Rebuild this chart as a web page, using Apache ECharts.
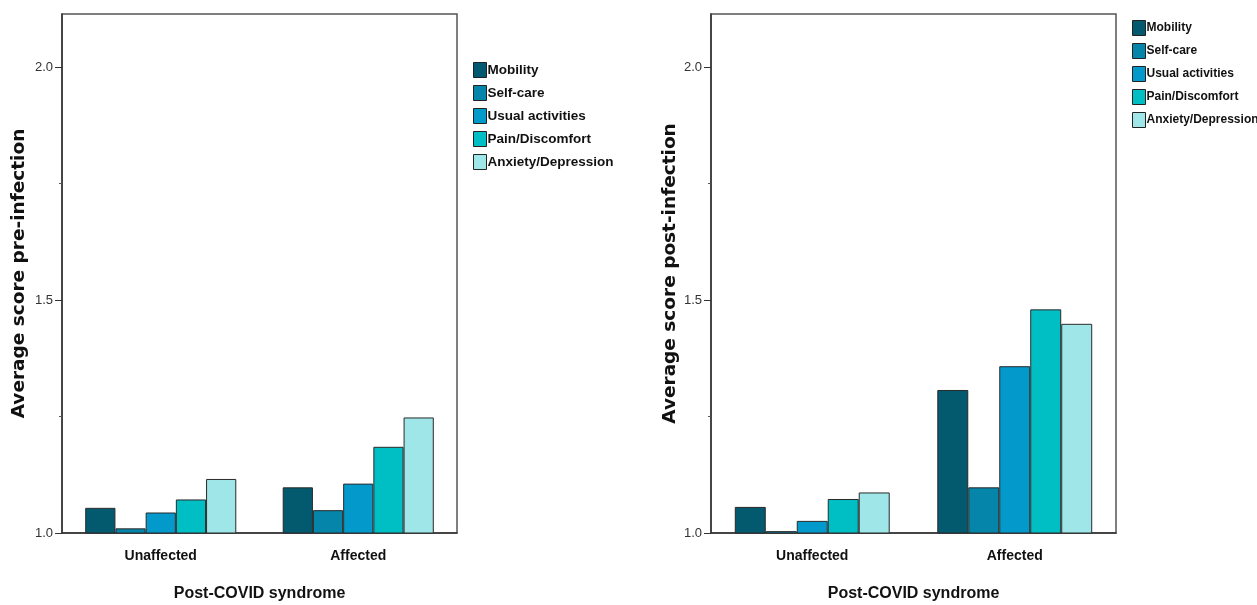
<!DOCTYPE html>
<html>
<head>
<meta charset="utf-8">
<script src="https://cdn.jsdelivr.net/npm/echarts@6/dist/echarts.min.js"></script>
<style>html,body{margin:0;padding:0;background:#fff;}#c{width:1257px;height:605px;}</style>
</head>
<body>
<div id="c"></div>
<script>
const categories = ['Unaffected', 'Affected'];
const dimensions = ['Mobility', 'Self-care', 'Usual activities', 'Pain/Discomfort', 'Anxiety/Depression'];
const preMobility = [1.054, 1.098];
const preSelfCare = [1.010, 1.049];
const preUsual = [1.044, 1.106];
const prePain = [1.072, 1.185];
const preAnxiety = [1.116, 1.248];
const postMobility = [1.056, 1.307];
const postSelfCare = [1.004, 1.098];
const postUsual = [1.026, 1.358];
const postPain = [1.073, 1.480];
const postAnxiety = [1.087, 1.449];
const yTickValues = [1.0, 1.5, 2.0];

const colors = ['#03596e', '#0585a9', '#0399cb', '#00bfc4', '#9fe6e8'];
const narrow = '"Liberation Sans Narrow", "Arial Narrow", "Liberation Sans", sans-serif';
const preData = [preMobility, preSelfCare, preUsual, prePain, preAnxiety];
const postData = [postMobility, postSelfCare, postUsual, postPain, postAnxiety];

function xAxis(gridIndex) {
  return {
    type: 'category', gridIndex, data: categories,
    name: 'Post-COVID syndrome', nameLocation: 'middle', nameGap: 53,
    nameTextStyle: { fontFamily: narrow, fontWeight: 'bold', fontSize: 16, color: '#111' },
    axisLine: { lineStyle: { color: '#333', width: 1.5 } },
    axisTick: { alignWithLabel: true, length: 7, lineStyle: { color: '#333' } },
    axisLabel: { fontFamily: narrow, fontWeight: 'bold', fontSize: 14, color: '#111', margin: 16 }
  };
}
function yAxis(gridIndex, name, gap) {
  return {
    type: 'value', gridIndex, min: 1, max: 2.114, interval: 0.5,
    name, nameLocation: 'middle', nameGap: gap,
    nameTextStyle: { fontFamily: '"DejaVu Sans", sans-serif', fontWeight: 'bold', fontSize: 18.5, color: '#111' },
    axisLine: { show: true, lineStyle: { color: '#333', width: 1.5 } },
    axisTick: { show: true, length: 7, customValues: yTickValues, lineStyle: { color: '#333' } },
    minorTick: { show: true, splitNumber: 2, length: 3, lineStyle: { color: '#555' } },
    splitLine: { show: false },
    axisLabel: {
      fontFamily: narrow, fontSize: 13, color: '#333', margin: 9,
      customValues: yTickValues,
      formatter: v => v.toFixed(1)
    }
  };
}
const series = [];
[preData, postData].forEach((set, gi) => {
  set.forEach((vals, i) => {
    series.push({
      type: 'bar', name: dimensions[i], xAxisIndex: gi, yAxisIndex: gi,
      data: vals, barGap: '0%', barCategoryGap: '23.5%',
      itemStyle: { color: colors[i], borderColor: '#2a2a2a', borderWidth: 1 },
      emphasis: { disabled: true }
    });
  });
});
function legend(left, top, fs) {
  return {
    left, top, orient: 'vertical', icon: 'rect', itemWidth: 13, itemHeight: 15, itemGap: 7,
    data: dimensions.map((d, i) => ({ name: d, itemStyle: { color: colors[i], borderColor: '#222', borderWidth: 1 } })),
    textStyle: { fontFamily: narrow, fontWeight: 'bold', fontSize: fs, color: '#111', padding: [0, 0, 0, -4] },
    selectedMode: false
  };
}
const chart = echarts.init(document.getElementById('c'), null, { renderer: 'canvas' });
chart.setOption({
  animation: false,
  color: colors,
  grid: [
    { left: 62, top: 14, width: 395, height: 519, outerBoundsMode: 'none', containLabel: false, show: true, borderColor: '#555', borderWidth: 1.5, backgroundColor: 'transparent' },
    { left: 711, top: 14, width: 405, height: 519, outerBoundsMode: 'none', containLabel: false, show: true, borderColor: '#555', borderWidth: 1.5, backgroundColor: 'transparent' }
  ],
  legend: [legend(468, 57, 13.5), legend(1127, 15, 12)],
  xAxis: [xAxis(0), xAxis(1)],
  yAxis: [yAxis(0, 'Average score pre-infection', 33), yAxis(1, 'Average score post-infection', 28)],
  series
});
</script>
</body>
</html>
